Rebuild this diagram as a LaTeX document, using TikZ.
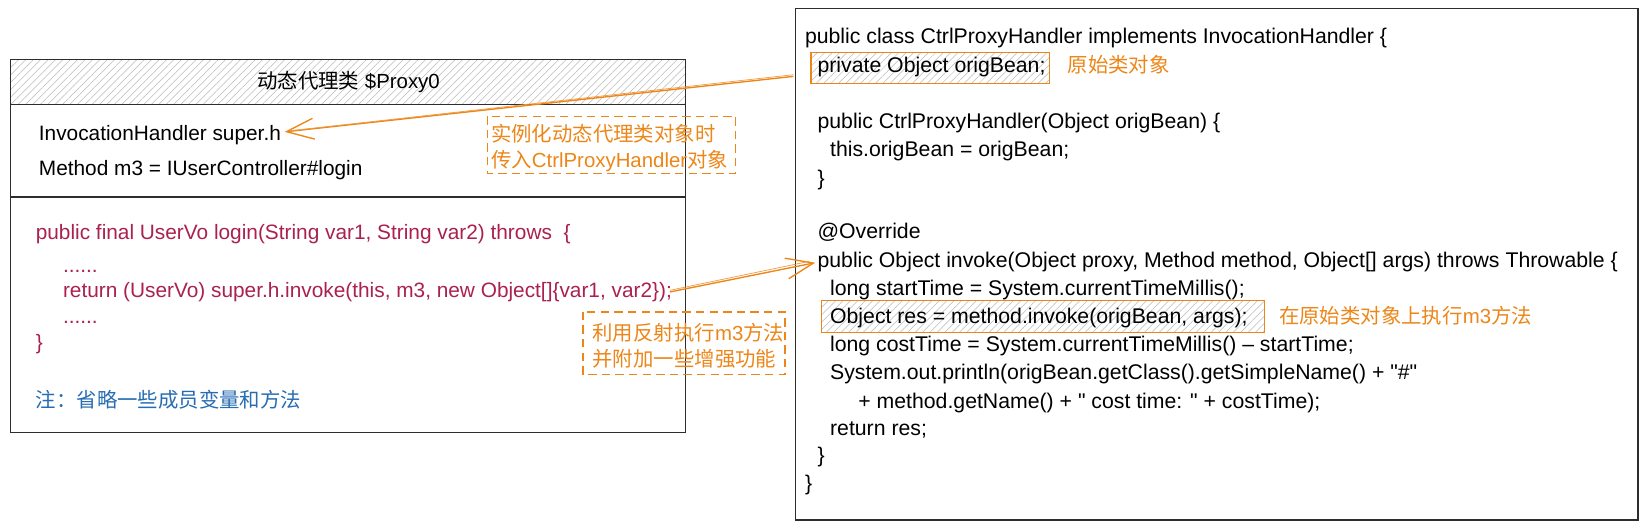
\documentclass[tikz,border=0pt]{standalone}
\usepackage{fontspec}
\setmainfont{Liberation Sans}[Ligatures=TeXOff]
\newfontfamily\cjkf{Noto Sans CJK SC}
\usetikzlibrary{patterns.meta,arrows.meta}
\definecolor{orng}{RGB}{236,134,24}
\definecolor{crim}{RGB}{170,32,80}
\definecolor{blu}{RGB}{38,108,178}
\definecolor{edgec}{RGB}{45,45,45}
\newcommand\zhx[1]{{\cjkf #1}}
\begin{document}
\begin{tikzpicture}[x=1pt,y=-1pt,
  txt/.style={anchor=base west,inner sep=0pt,font=\fontsize{19.5}{23}\selectfont},
  code/.style={txt,text=black,font=\fontsize{20.3}{24}\selectfont},
  lcode/.style={txt,text=black,font=\fontsize{19.9}{24}\selectfont},
  red/.style={lcode,text=crim},
  note/.style={txt,text=orng},
  boxline/.style={draw=edgec,line width=1.3pt},
  hatch/.style={pattern={Lines[angle=45,distance=5pt,line width=0.5pt]},pattern color=gray!55},
  dbox/.style={draw=orng,line width=1.2pt,dash pattern=on 8pt off 5pt},
  arr/.style={draw=orng,line width=1.3pt,-{Straight Barb[length=26pt,width=20pt,line width=1.3pt]}},
  sketch/.style={draw=orng!80,line width=0.7pt}
]
\useasboundingbox (0,0) rectangle (1568,506);
% left box
\path[hatch] (10,57) rectangle (655,100);
\draw[boxline] (10,57) rectangle (655,413);
\draw[boxline] (10,100) -- (655,100);
\draw[boxline,line width=1.6pt] (10,188) -- (655,188);
\node[inner sep=0pt,font=\fontsize{19.5}{23}\selectfont] (hdr) at (333,78) {\zhx{动态代理类} \$Proxy0};
\node[lcode] (superh) at (37,134) {InvocationHandler super.h};
\node[lcode] (m3) at (37,168) {Method m3 = IUserController\#login};
\node[red] (l1) at (34,229) {public final UserVo login(String var1, String var2) throws\ \ \{};
\node[red] (l2) at (60,260) {......};
\node[red] (ret) at (60,284) {return (UserVo) super.h.invoke(this, m3, new Object[]\{var1, var2\});};
\node[red] (l4) at (60,309) {......};
\node[red] (l5) at (34,334) {\}};
\node[txt,text=blu] (omit) at (34,389) {\zhx{注：省略一些成员变量和方法}};
% dashed notes
\draw[dbox] (466,111) rectangle (703,166);
\node[note] (n1a) at (469,135) {\zhx{实例化动态代理类对象时}};
\node[note] (n1b) at (469,160) {\zhx{传入}CtrlProxyHandler\zhx{对象}};
\draw[dbox] (557,298) rectangle (750,358);
\node[note] (n2a) at (566,325) {\zhx{利用反射执行}m3\zhx{方法}};
\node[note] (n2b) at (566,350) {\zhx{并附加一些增强功能}};
% right box
\draw[boxline] (760,8) rectangle (1565,497);
\path[hatch] (775,50) rectangle (1003,80);
\draw[draw=orng,line width=1.2pt] (775,50) rectangle (1003,80);
\path[hatch] (785,287) rectangle (1208,318);
\draw[draw=orng,line width=1.2pt] (785,287) rectangle (1208,318);
\node[code] (r0) at (769,42) {public class CtrlProxyHandler implements InvocationHandler \{};
\node[code] (r1) at (781,69) {private Object origBean;};
\node[note] (r1n) at (1020,69) {\zhx{原始类对象}};
\node[code] (r3) at (781,123) {public CtrlProxyHandler(Object origBean) \{};
\node[code] (r4) at (793,150) {this.origBean = origBean;};
\node[code] (r5) at (781,177) {\}};
\node[code] (r7) at (781,228) {@Override};
\node[code] (invoke) at (781,256) {public Object invoke(Object proxy, Method method, Object[] args) throws Throwable \{};
\node[code] (r9) at (793,282) {long startTime = System.currentTimeMillis();};
\node[code] (r10) at (793,309) {Object res = method.invoke(origBean, args);};
\node[note] (r10n) at (1222,309) {\zhx{在原始类对象上执行}m3\zhx{方法}};
\node[code] (r11) at (793,336) {long costTime = System.currentTimeMillis() – startTime;};
\node[code] (r12) at (793,363) {System.out.println(origBean.getClass().getSimpleName() + "\#"};
\node[code] (r13) at (820,390) {+ method.getName() + " cost time: " + costTime);};
\node[code] (r14) at (793,416) {return res;};
\node[code] (r15) at (781,442) {\}};
\node[code] (r16) at (769,469) {\}};
% arrows
\coordinate (s1) at (758,73);
\coordinate (t1) at (272,126);
\coordinate (s2) at (640,279);
\coordinate (t2) at (779,251);
\draw[arr] (s1) -- (t1);
\draw[sketch] ([yshift=1.6pt]s1) -- ([yshift=1.2pt,xshift=6pt]t1);
\draw[arr] (s2) -- (t2);
\draw[sketch] ([yshift=1.6pt]s2) -- ([yshift=1.2pt,xshift=-6pt]t2);
\end{tikzpicture}
\end{document}
